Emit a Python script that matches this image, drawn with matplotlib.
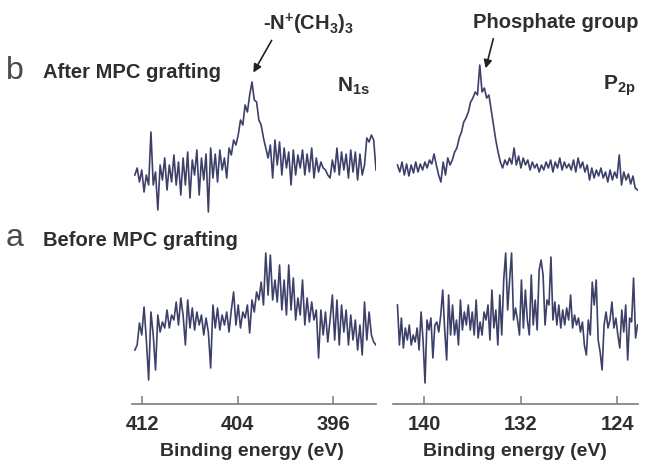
import numpy as np
import matplotlib
matplotlib.use("Agg")
import matplotlib.pyplot as plt

plt.rcParams['font.family'] = ['Liberation Sans', 'DejaVu Sans']
plt.rcParams['mathtext.fontset'] = 'custom'
plt.rcParams['mathtext.rm'] = 'Liberation Sans:bold'
plt.rcParams['mathtext.bf'] = 'Liberation Sans:bold'
plt.rcParams['mathtext.it'] = 'Liberation Sans:italic'

# ---------------- data (relative intensities, arbitrary units) ----------------
n1s_energy_range = (412.6, 392.4)
p2p_energy_range = (142.2, 122.3)

n1s_after = [45, 52, 38, 50, 28, 45, 35, 88, 35, 48, 10, 55, 40, 62, 30, 55, 38, 65, 35, 58,
             25, 62, 35, 68, 22, 60, 45, 70, 25, 62, 40, 66, 8, 72, 42, 66, 38, 70, 50, 62,
             42, 72, 65, 80, 75, 85, 100, 95, 115, 108, 125, 138, 120, 118, 100, 95, 82, 72, 62, 75,
             42, 80, 55, 78, 45, 72, 52, 68, 35, 70, 45, 65, 52, 70, 45, 66, 48, 72, 42, 62,
             48, 58, 52, 50, 45, 42, 60, 48, 72, 45, 68, 50, 66, 42, 70, 48, 68, 40, 66, 45,
             55, 82, 78, 85, 80, 50]

p2p_after = [55, 48, 58, 45, 56, 44, 55, 47, 58, 48, 56, 50, 58, 52, 60, 56, 66, 55, 45, 38,
             58, 45, 62, 55, 60, 68, 72, 82, 88, 98, 102, 108, 118, 122, 128, 125, 155, 128, 132, 122,
             125, 110, 95, 80, 68, 58, 52, 60, 55, 62, 56, 72, 55, 64, 52, 62, 55, 60, 50, 58,
             52, 56, 48, 55, 50, 58, 52, 60, 48, 58, 52, 62, 50, 58, 52, 56, 50, 60, 48, 62,
             52, 58, 48, 55, 40, 52, 42, 50, 44, 52, 42, 48, 38, 50, 40, 48, 42, 65, 35, 48,
             40, 46, 36, 44, 32, 30]

n1s_before = [40, 45, 67, 55, 83, 50, 10, 78, 55, 20, 75, 58, 68, 62, 80, 62, 75, 70, 88, 65,
              92, 75, 45, 90, 62, 82, 60, 78, 65, 75, 55, 72, 58, 22, 85, 62, 82, 60, 75, 65,
              78, 58, 80, 98, 65, 85, 62, 78, 72, 85, 57, 90, 78, 98, 90, 108, 85, 137, 95, 135,
              90, 110, 88, 125, 80, 110, 75, 125, 80, 112, 70, 92, 75, 110, 65, 92, 68, 88, 70, 80,
              32, 80, 55, 78, 48, 70, 95, 50, 90, 45, 85, 58, 80, 45, 75, 50, 70, 40, 65, 35,
              88, 50, 78, 55, 48, 45]

p2p_before = [85, 45, 72, 42, 62, 50, 65, 45, 55, 48, 62, 40, 78, 50, 7, 70, 60, 72, 32, 65,
              68, 58, 75, 100, 60, 30, 95, 55, 85, 55, 70, 45, 90, 60, 78, 65, 85, 60, 78, 55,
              90, 52, 68, 55, 78, 70, 85, 50, 100, 62, 80, 45, 95, 55, 110, 137, 80, 110, 137, 70,
              82, 70, 55, 110, 62, 100, 70, 55, 115, 65, 90, 60, 120, 130, 115, 65, 90, 85, 133, 70,
              88, 65, 85, 62, 80, 65, 82, 70, 95, 62, 75, 65, 72, 58, 68, 45, 35, 70, 55, 108,
              85, 110, 50, 38, 20, 65, 78, 62, 70, 88, 62, 72, 55, 42, 80, 58, 85, 30, 72, 68,
              112, 52, 65]

n1s_ticks = [412, 404, 396]
p2p_ticks = [140, 132, 124]
xlabel = "Binding energy (eV)"

# ---------------- figure ----------------
W, H = 653, 467
fig = plt.figure(figsize=(W / 100, H / 100), dpi=100)
fig.patch.set_facecolor('white')

line_color = '#3d4068'
text_color = '#2e2e2e'
axis_color = '#7a7a7a'

def fx(px):
    return px / W

def fy(py):
    return 1 - py / H

def make_axes(x0, x1, xlim):
    ax = fig.add_axes([fx(x0), fy(404), fx(x1) - fx(x0), (404 - 60) / H])
    ax.set_xlim(*xlim)
    ax.set_ylim(0, 344)
    for s in ['left', 'right', 'top']:
        ax.spines[s].set_visible(False)
    ax.spines['bottom'].set_color(axis_color)
    ax.spines['bottom'].set_linewidth(1.2)
    ax.set_yticks([])
    ax.tick_params(axis='x', direction='in', length=6, width=1.1, color=axis_color,
                   pad=8, labelsize=14.5, labelcolor=text_color)
    ax.patch.set_alpha(0)
    return ax

ax1 = make_axes(132, 376, (412.84, 392.4))
ax2 = make_axes(393, 638, (142.57, 122.26))

off_b, off_a = 184, 14

e = np.linspace(*n1s_energy_range, len(n1s_after))
ax1.plot(e, np.array(n1s_after) + off_b, color=line_color, lw=1.2)
e = np.linspace(*n1s_energy_range, len(n1s_before))
ax1.plot(e, np.array(n1s_before) + off_a, color=line_color, lw=1.2)
e = np.linspace(*p2p_energy_range, len(p2p_after))
ax2.plot(e, np.array(p2p_after) + off_b, color=line_color, lw=1.2)
e = np.linspace(*p2p_energy_range, len(p2p_before))
ax2.plot(e, np.array(p2p_before) + off_a, color=line_color, lw=1.2)

for ax, t in ((ax1, n1s_ticks), (ax2, p2p_ticks)):
    ax.set_xticks(t)
    ax.set_xticklabels([str(v) for v in t], fontweight='bold')

fig.text(fx(252), fy(452), xlabel, ha='center', va='center', fontsize=14,
         fontweight='bold', color=text_color)
fig.text(fx(515), fy(452), xlabel, ha='center', va='center', fontsize=14,
         fontweight='bold', color=text_color)

# panel labels
fig.text(fx(6), fy(71), 'b', ha='left', va='center', fontsize=23, color='#4a4a4a',
         fontweight='light')
fig.text(fx(43), fy(73), 'After MPC grafting', ha='left', va='center', fontsize=14.5,
         fontweight='bold', color=text_color)
fig.text(fx(6), fy(238), 'a', ha='left', va='center', fontsize=23, color='#4a4a4a',
         fontweight='light')
fig.text(fx(43), fy(240), 'Before MPC grafting', ha='left', va='center', fontsize=14.5,
         fontweight='bold', color=text_color)

fig.text(fx(370), fy(86), r'$\mathbf{N_{1s}}$', ha='right', va='center', fontsize=15,
         color=text_color)
fig.text(fx(636), fy(86), r'$\mathbf{P_{2p}}$', ha='right', va='center', fontsize=15,
         color=text_color)

# annotations
fig.text(fx(308), fy(24), r'-N$^{+}$(CH$_3$)$_3$', ha='center', va='center', fontsize=14.5,
         fontweight='bold', color=text_color)
fig.text(fx(556), fy(22), 'Phosphate group', ha='center', va='center', fontsize=14.5,
         fontweight='bold', color=text_color)
arrow_kw = dict(arrowstyle='-|>', color='#222222', lw=1.2, mutation_scale=12)
fig.patches.append(matplotlib.patches.FancyArrowPatch((fx(273), fy(38)), (fx(252), fy(75)),
                   transform=fig.transFigure, **arrow_kw))
fig.patches.append(matplotlib.patches.FancyArrowPatch((fx(494), fy(36)), (fx(485), fy(71)),
                   transform=fig.transFigure, **arrow_kw))

fig.savefig('out.png', dpi=100, facecolor='white')
